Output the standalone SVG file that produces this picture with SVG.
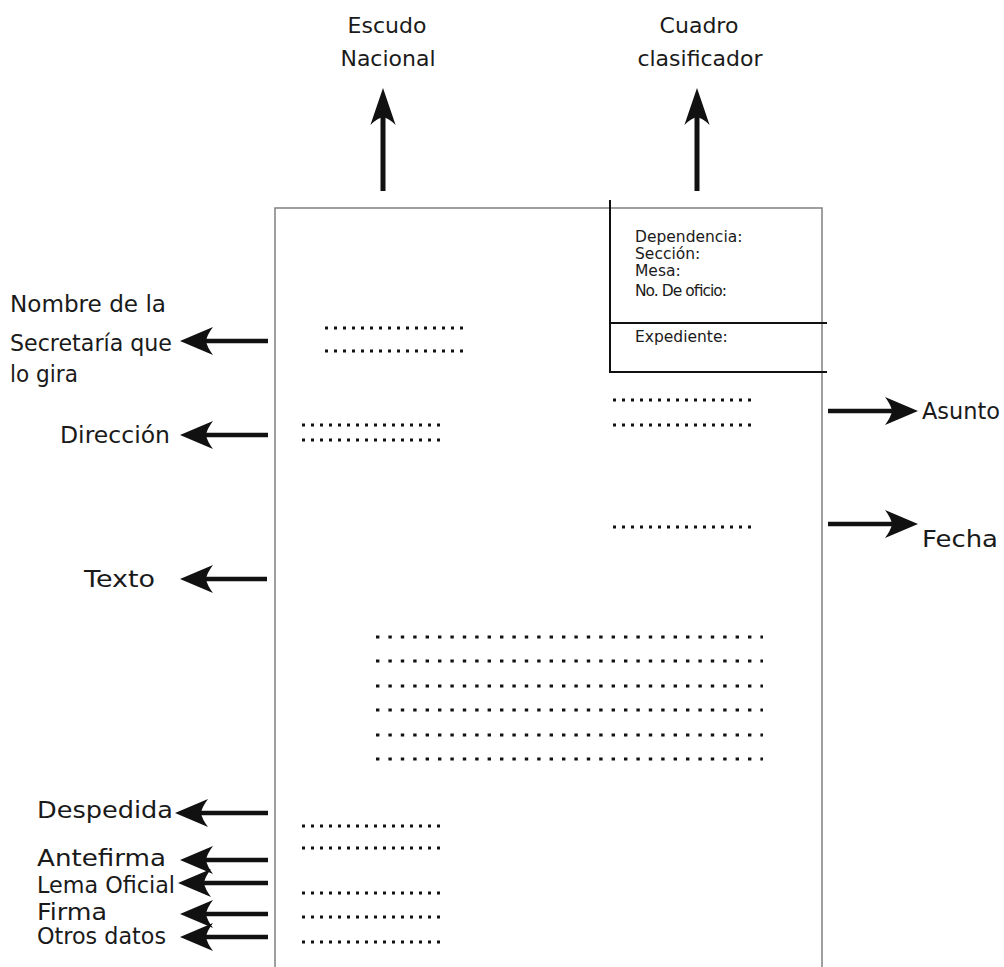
<svg xmlns="http://www.w3.org/2000/svg" xmlns:xlink="http://www.w3.org/1999/xlink" width="1004" height="967" viewBox="0 0 1004 967">
<style>
.lbl{font-family:"DejaVu Sans","Liberation Sans",sans-serif;font-size:23px;fill:#1a1a1a}
.top{font-family:"DejaVu Sans","Liberation Sans",sans-serif;font-size:22px;fill:#1a1a1a;text-anchor:middle}
.sm{font-family:"DejaVu Sans","Liberation Sans",sans-serif;font-size:15.5px;fill:#1a1a1a}
.page{stroke:#808080;stroke-width:1.5;fill:none}
.box{stroke:#111;stroke-width:2;fill:none}
.dots{stroke:#111;stroke-width:3;stroke-dasharray:3 6;fill:none}
.ldots{stroke:#111;stroke-width:3.2;stroke-dasharray:3.4 9;fill:none}
.shaft{stroke:#111;stroke-width:4.5}
.head{fill:#111}
</style>
<defs>
<path id="ah" d="M0,0 L33,-14 Q27,-6 26,0 Q27,6 33,14 Z"/>
</defs>
<rect width="1004" height="967" fill="#fff"/>
<g id="page">
<path class="page" d="M275,967 V208 H822 V967"/>
</g>
<g id="cuadro-box">
<path class="box" d="M610,200 V373"/>
<path class="box" d="M610,323 H827"/>
<path class="box" d="M610,372 H827"/>
<text class="sm" x="635" y="242">Dependencia:</text>
<text class="sm" x="635" y="259">Sección:</text>
<text class="sm" x="635" y="276">Mesa:</text>
<text class="sm" x="635" y="296" textLength="92" lengthAdjust="spacing">No. De oficio:</text>
<text class="sm" x="635" y="342">Expediente:</text>
</g>
<g id="dotted-lines">
<path class="dots" d="M325,328 H464 M325,351 H464"/>
<path class="dots" d="M302,425 H441 M302,440 H441"/>
<path class="dots" d="M613,400 H752 M613,425 H752"/>
<path class="dots" d="M613,527 H752"/>
<path class="ldots" d="M376,637 H763 M376,661 H763 M376,686 H763 M376,710 H763 M376,735 H763 M376,759 H763"/>
<path class="dots" d="M302,826 H441 M302,848 H441 M302,893 H441 M302,917 H441 M302,942 H441"/>
</g>
<g id="labels">
<g id="n-escudo"><text class="top" x="387" y="33">Escudo</text><text class="top" x="388" y="66">Nacional</text></g>
<g id="n-cuadro"><text class="top" x="699" y="33">Cuadro</text><text class="top" x="700" y="66">clasificador</text></g>
<g id="n-nombre"><text class="lbl" x="10" y="312" textLength="156" lengthAdjust="spacingAndGlyphs">Nombre de la</text><text class="lbl" x="10" y="351" textLength="162" lengthAdjust="spacingAndGlyphs">Secretaría que</text><text class="lbl" x="10" y="382" textLength="68" lengthAdjust="spacingAndGlyphs">lo gira</text></g>
<g id="n-direccion"><text class="lbl" x="60" y="443" textLength="110" lengthAdjust="spacingAndGlyphs">Dirección</text></g>
<g id="n-texto"><text class="lbl" x="84" y="587" textLength="71" lengthAdjust="spacingAndGlyphs">Texto</text></g>
<g id="n-asunto"><text class="lbl" x="922" y="419" textLength="78" lengthAdjust="spacingAndGlyphs">Asunto</text></g>
<g id="n-fecha"><text class="lbl" x="922" y="547" textLength="76" lengthAdjust="spacingAndGlyphs">Fecha</text></g>
<g id="n-despedida"><text class="lbl" x="37" y="818" textLength="136" lengthAdjust="spacingAndGlyphs">Despedida</text></g>
<g id="n-antefirma"><text class="lbl" x="37" y="866" textLength="129" lengthAdjust="spacingAndGlyphs">Antefirma</text></g>
<g id="n-lema"><text class="lbl" x="37" y="893" textLength="138" lengthAdjust="spacingAndGlyphs">Lema Oficial</text></g>
<g id="n-firma"><text class="lbl" x="37" y="920" textLength="70" lengthAdjust="spacingAndGlyphs">Firma</text></g>
<g id="n-otros"><text class="lbl" x="37" y="944" textLength="129" lengthAdjust="spacingAndGlyphs">Otros datos</text></g>
</g>
<g id="connectors">
<line class="shaft" x1="383" y1="110" x2="383" y2="191" style="stroke-width:5"/>
<use href="#ah" class="head" transform="translate(383,88) rotate(90) scale(1.12,0.9)"/>
<line class="shaft" x1="697" y1="110" x2="697" y2="191" style="stroke-width:5"/>
<use href="#ah" class="head" transform="translate(697,88) rotate(90) scale(1.12,0.9)"/>

<line class="shaft" x1="200" y1="341" x2="268" y2="341"/><use href="#ah" class="head" transform="translate(180,341)"/>
<line class="shaft" x1="200" y1="435" x2="268" y2="435"/><use href="#ah" class="head" transform="translate(180,435)"/>
<line class="shaft" x1="200" y1="579" x2="267" y2="579"/><use href="#ah" class="head" transform="translate(180,579)"/>
<line class="shaft" x1="195" y1="813" x2="268" y2="813"/><use href="#ah" class="head" transform="translate(175,813)"/>
<line class="shaft" x1="200" y1="860" x2="268" y2="860"/><use href="#ah" class="head" transform="translate(180,860)"/>
<line class="shaft" x1="198" y1="883" x2="268" y2="883"/><use href="#ah" class="head" transform="translate(178,883)"/>
<line class="shaft" x1="200" y1="914" x2="268" y2="914"/><use href="#ah" class="head" transform="translate(180,914)"/>
<line class="shaft" x1="200" y1="937" x2="268" y2="937"/><use href="#ah" class="head" transform="translate(180,937)"/>

<line class="shaft" x1="828" y1="411" x2="898" y2="411"/><use href="#ah" class="head" transform="translate(918,411) rotate(180)"/>
<line class="shaft" x1="828" y1="524" x2="898" y2="524"/><use href="#ah" class="head" transform="translate(918,524) rotate(180)"/>
</g>
</svg>
